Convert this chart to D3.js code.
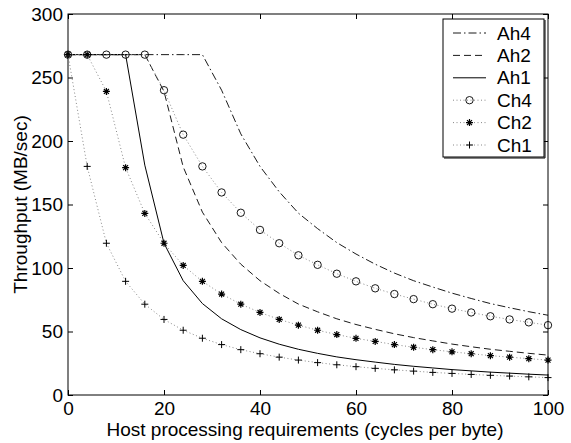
<!DOCTYPE html>
<html>
<head>
<meta charset="utf-8">
<script src="https://cdn.jsdelivr.net/npm/d3@7"></script>
<style>
  body { margin: 0; background: #fff; }
  svg { display: block; font-family: "Liberation Sans", Arial, sans-serif; }
</style>
</head>
<body>
<svg id="chart" width="571" height="443"></svg>
<script>
// host processing requirement (cycles per byte)
const cycles = [0, 4, 8, 12, 16, 20, 24, 28, 32, 36, 40, 44, 48, 52, 56, 60, 64, 68, 72, 76, 80, 84, 88, 92, 96, 100];

// throughput (MB/sec)
const ah4 = [268, 268, 268, 268, 268, 268, 268, 268, 240, 205.6, 180, 160, 143.2, 131, 120, 111, 103, 96, 90, 85, 80.2, 76, 72, 68.7, 65.6, 62.8];
const ah2 = [268, 268, 268, 268, 268, 239, 179.6, 144, 120, 103, 90, 80, 71.6, 65.5, 60, 55.5, 51.7, 48.2, 45.2, 42.6, 40.1, 38, 36, 34.4, 32.8, 31.4];
const ah1 = [268, 268, 268, 268, 181, 119.5, 90, 72, 60, 51.5, 45, 40, 36, 32.8, 30, 27.8, 25.9, 24.1, 22.6, 21.3, 20, 19, 18, 17.2, 16.4, 15.7];
const ch4 = [268, 268, 268, 268, 268, 240, 205, 180, 159.5, 143.5, 130, 119.5, 110, 102.5, 95.5, 89.5, 84, 79.5, 75.5, 71.5, 68, 65, 62, 59.5, 57.2, 55];
const ch2 = [268, 268, 239, 179, 143, 119.5, 102, 89.5, 79.5, 71.5, 65, 59.5, 55, 51, 47.6, 44.6, 42.2, 39.7, 37.6, 35.7, 34, 32.5, 31, 29.8, 28.6, 27.5];
const ch1 = [268, 180, 119.5, 89.5, 71.5, 59.5, 51, 44.7, 39.7, 35.7, 32.5, 29.8, 27.5, 25.5, 23.8, 22.3, 21, 19.8, 18.8, 17.8, 17, 16.2, 15.5, 14.9, 14.3, 13.7];

const seriesNames = ["Ah4", "Ah2", "Ah1", "Ch4", "Ch2", "Ch1"];
const xTicks = [0, 20, 40, 60, 80, 100];
const yTicks = [0, 50, 100, 150, 200, 250, 300];

const series = [
  { name: "Ah4", values: ah4, dash: "8,3,1.5,3", marker: null, width: 0.9, color: "#000" },
  { name: "Ah2", values: ah2, dash: "7,4", marker: null, width: 0.9, color: "#000" },
  { name: "Ah1", values: ah1, dash: null, marker: null, width: 1, color: "#000" },
  { name: "Ch4", values: ch4, dash: "1,2.5", marker: "circle", width: 1, color: "#888" },
  { name: "Ch2", values: ch2, dash: "1,2.5", marker: "star", width: 1, color: "#888" },
  { name: "Ch1", values: ch1, dash: "1,2.5", marker: "plus", width: 1, color: "#888" }
];

const margin = { left: 68, top: 14, right: 23, bottom: 48 };
const width = 571 - margin.left - margin.right;
const height = 443 - margin.top - margin.bottom;
const fontSize = 19;

const svg = d3.select("#chart");
const g = svg.append("g").attr("transform", `translate(${margin.left}, ${margin.top})`);

const xScale = d3.scaleLinear().domain([0, 100]).range([0, width]);
const yScale = d3.scaleLinear().domain([0, 300]).range([height, 0]);

// axes with inward ticks, box style
const xAxis = g.append("g")
  .attr("transform", `translate(0, ${height})`)
  .call(d3.axisBottom(xScale).tickValues(xTicks).tickSize(-5).tickPadding(7));
const yAxis = g.append("g")
  .call(d3.axisLeft(yScale).tickValues(yTicks).tickSize(-5).tickPadding(5));
const xTop = g.append("g")
  .call(d3.axisTop(xScale).tickValues(xTicks).tickSize(-5).tickFormat(""));
const yRight = g.append("g")
  .attr("transform", `translate(${width}, 0)`)
  .call(d3.axisRight(yScale).tickValues(yTicks).tickSize(-5).tickFormat(""));

[xAxis, yAxis, xTop, yRight].forEach(a => {
  a.select(".domain").remove();
  a.selectAll("line").attr("stroke", "#000");
  a.selectAll("text").attr("fill", "#000").style("font-size", fontSize + "px")
    .style("font-family", '"Liberation Sans", Arial, sans-serif');
});

g.append("rect")
  .attr("x", 0).attr("y", 0)
  .attr("width", width).attr("height", height)
  .attr("fill", "none").attr("stroke", "#000").attr("stroke-width", 1);

// marker drawing
function drawMarker(sel, type, x, y) {
  if (type === "circle") {
    sel.append("circle").attr("cx", x).attr("cy", y).attr("r", 3.7)
      .attr("fill", "none").attr("stroke", "#000").attr("stroke-width", 0.9);
  } else if (type === "plus") {
    sel.append("path").attr("d", `M${x - 3.5},${y}H${x + 3.5}M${x},${y - 3.5}V${y + 3.5}`)
      .attr("stroke", "#000").attr("stroke-width", 1);
  } else if (type === "star") {
    const r = 3.5, d = r * 0.707;
    sel.append("path")
      .attr("d", `M${x - r},${y}H${x + r}M${x},${y - r}V${y + r}M${x - d},${y - d}L${x + d},${y + d}M${x - d},${y + d}L${x + d},${y - d}`)
      .attr("stroke", "#000").attr("stroke-width", 1.2);
  }
}

const line = d3.line()
  .x(d => xScale(d[0]))
  .y(d => yScale(d[1]));

series.forEach(s => {
  const pts = cycles.map((c, i) => [c, s.values[i]]);
  g.append("path")
    .datum(pts)
    .attr("fill", "none")
    .attr("stroke", s.color)
    .attr("stroke-width", s.width)
    .attr("stroke-dasharray", s.dash)
    .attr("d", line);
  if (s.marker) {
    const mg = g.append("g");
    pts.forEach(p => drawMarker(mg, s.marker, xScale(p[0]), yScale(p[1])));
  }
});

// axis titles
g.append("text")
  .attr("x", width / 2 - 3).attr("y", height + 41)
  .attr("text-anchor", "middle")
  .style("font-size", fontSize + "px")
  .text("Host processing requirements (cycles per byte)");

g.append("text")
  .attr("transform", `translate(${-41}, ${height / 2}) rotate(-90)`)
  .attr("text-anchor", "middle")
  .style("font-size", fontSize + "px")
  .text("Throughput (MB/sec)");

// legend
const legend = svg.append("g").attr("transform", "translate(443, 19)");
const lw = 101, lh = 138;
legend.append("rect")
  .attr("x", 0).attr("y", 0).attr("width", lw).attr("height", lh)
  .attr("fill", "#fff").attr("stroke", "#000").attr("stroke-width", 1);
legend.append("path")
  .attr("d", `M1,${lh + 1}H${lw + 1}V1`)
  .attr("fill", "none").attr("stroke", "#000").attr("stroke-width", 1);

series.forEach((s, i) => {
  const y = 14 + i * 22.4;
  legend.append("line")
    .attr("x1", 10).attr("x2", 43).attr("y1", y).attr("y2", y)
    .attr("stroke", s.color).attr("stroke-width", s.width)
    .attr("stroke-dasharray", s.dash);
  if (s.marker) drawMarker(legend, s.marker, 26.5, y);
  legend.append("text")
    .attr("x", 54).attr("y", y)
    .attr("dy", "0.35em")
    .style("font-size", fontSize + "px")
    .text(seriesNames[i]);
});
</script>
</body>
</html>
